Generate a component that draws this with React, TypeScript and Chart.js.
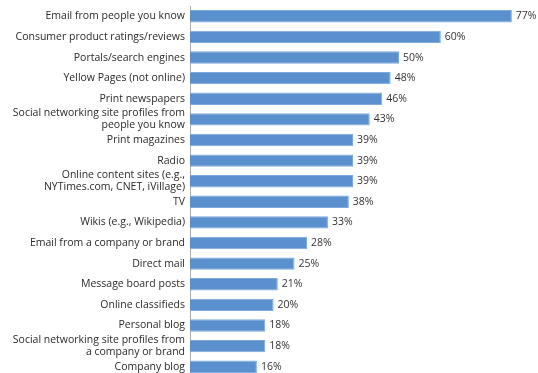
import React, { useEffect, useRef } from "react";
import { Chart, registerables } from "chart.js";

Chart.register(...registerables);

const categories: (string | string[])[] = [
  "Email from people you know",
  "Consumer product ratings/reviews",
  "Portals/search engines",
  "Yellow Pages (not online)",
  "Print newspapers",
  ["Social networking site profiles from", "people you know"],
  "Print magazines",
  "Radio",
  ["Online content sites (e.g.,", "NYTimes.com, CNET, iVillage)"],
  "TV",
  "Wikis (e.g., Wikipedia)",
  "Email from a company or brand",
  "Direct mail",
  "Message board posts",
  "Online classifieds",
  "Personal blog",
  ["Social networking site profiles from", "a company or brand"],
  "Company blog",
];

const values: number[] = [77, 60, 50, 48, 46, 43, 39, 39, 39, 38, 33, 28, 25, 21, 20, 18, 18, 16];

const FONT = "'Open Sans', 'Liberation Sans', sans-serif";

const valueLabels = {
  id: "valueLabels",
  afterDatasetsDraw(chart: any) {
    const ctx = chart.ctx;
    const meta = chart.getDatasetMeta(0);
    ctx.save();
    ctx.font = `10.5px ${FONT}`;
    ctx.fillStyle = "#333";
    ctx.textBaseline = "middle";
    ctx.textAlign = "left";
    meta.data.forEach((bar: any, i: number) => {
      ctx.fillText(`${values[i]}%`, bar.x + 4, bar.y);
    });
    ctx.restore();
  },
};

export default function App() {
  const ref = useRef<HTMLCanvasElement | null>(null);
  useEffect(() => {
    if (!ref.current) return;
    const chart = new Chart(ref.current, {
      type: "bar",
      data: {
        labels: categories,
        datasets: [
          {
            data: values,
            backgroundColor: "#5b90cf",
            borderColor: "#7fa9da",
            borderWidth: 1,
            barPercentage: 0.6,
            categoryPercentage: 1,
          },
        ],
      },
      options: {
        indexAxis: "y",
        animation: false,
        responsive: false,
        maintainAspectRatio: false,
        layout: { padding: { top: 6, bottom: 0, left: 0, right: 13.6 } },
        plugins: {
          legend: { display: false },
          tooltip: { enabled: false },
        },
        scales: {
          x: { display: false, min: 0, max: 80 },
          y: {
            afterFit: (scale: any) => {
              scale.width = 190;
              scale.paddingTop = 0;
              scale.paddingBottom = 0;
            },
            grid: { drawOnChartArea: false, drawTicks: false },
            border: { display: true, color: "#aaa", width: 1 },
            ticks: {
              padding: 5,
              color: "#2a2a2a",
              font: { family: FONT, size: 10.5, lineHeight: 1.15 },
              autoSkip: false,
            },
          },
        },
      },
      plugins: [valueLabels],
    });
    return () => chart.destroy();
  }, []);
  return (
    <div style={{ position: "fixed", left: 0, top: 0, width: 538, height: 373, overflow: "hidden", background: "#fff" }}>
      <canvas ref={ref} width={538} height={377} />
    </div>
  );
}
